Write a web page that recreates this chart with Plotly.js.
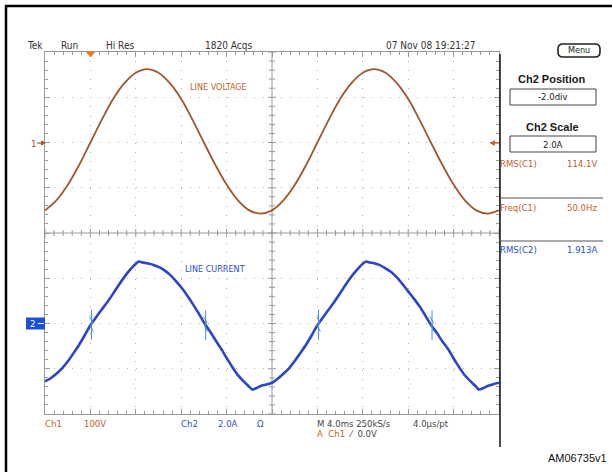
<!DOCTYPE html>
<html>
<head>
<meta charset="utf-8">
<script src="https://cdn.plot.ly/plotly-3.0.1.min.js"></script>
<style>
  html, body { margin: 0; padding: 0; background: #ffffff; }
  #scope { width: 612px; height: 472px; }
</style>
</head>
<body>
<div id="scope"></div>
<script>
// Time base: 4 ms/div, ten divisions, trigger one division in from the left
const voltageTimeMs = [-4, -3, -2, -1, 0, 1, 2, 3, 4, 5, 6, 7, 8, 9, 10, 11, 12, 13, 14, 15, 16,
  17, 18, 19, 20, 21, 22, 23, 24, 25, 26, 27, 28, 29, 30, 31, 32, 33, 34, 35, 36];

// Ch1: line voltage (V), 100 V/div
const lineVoltage = [-150, -128, -94, -50, 0, 50, 96, 131, 154, 162, 154, 131, 96, 50, 0,
  -49, -93, -128, -150, -157, -150, -128, -94, -50, 0, 50, 96, 131, 154, 162, 154, 131, 96,
  50, 0, -49, -93, -128, -150, -157, -150];

// Ch2: line current (A), 2 A/div
const currentTimeMs = [-4, -3.5, -3, -2.5, -2, -1.5, -1, -0.5, 0, 0.5, 1, 1.5, 2, 2.5, 3, 3.5, 4,
  4.25, 4.6,
  5, 5.5, 6, 6.5, 7, 7.5, 8, 8.5, 9, 9.5, 10, 10.5, 11, 11.5, 12, 12.5, 13, 13.5, 14,
  14.25, 14.6,
  15, 15.5, 16, 16.5, 17, 17.5, 18, 18.5, 19, 19.5, 20, 20.5, 21, 21.5, 22, 22.5, 23, 23.5, 24,
  24.3, 24.6,
  25, 25.5, 26, 26.5, 27, 27.5, 28, 28.5, 29, 29.5, 30, 30.5, 31, 31.5, 32, 32.5, 33, 33.5, 34,
  34.2, 34.6,
  35, 35.5, 36];
const lineCurrent = [-2.56, -2.42, -2.22, -1.98, -1.68, -1.32, -0.95, -0.52, -0.08, 0.28, 0.62, 0.95, 1.32, 1.70, 2.06, 2.38, 2.64,
  2.74, 2.70,
  2.66, 2.60, 2.50, 2.36, 2.16, 1.90, 1.60, 1.26, 0.88, 0.48, 0.05, -0.32, -0.72, -1.10, -1.52, -1.92, -2.28, -2.56, -2.80,
  -2.92, -2.86,
  -2.76, -2.70, -2.62, -2.44, -2.22, -1.98, -1.66, -1.30, -0.94, -0.52, -0.08, 0.28, 0.62, 0.96, 1.34, 1.72, 2.08, 2.38, 2.64,
  2.74, 2.70,
  2.66, 2.58, 2.44, 2.28, 2.04, 1.74, 1.42, 1.10, 0.76, 0.36, -0.06, -0.40, -0.78, -1.12, -1.54, -1.94, -2.30, -2.56, -2.80,
  -2.92, -2.86,
  -2.76, -2.68, -2.62];

// Switching glitches on the current at each zero crossing
const spikeTimeMs = [0.1, 10.15, 20.1, 30.1];
const spikeHigh = [0.62, 0.58, 0.62, 0.58];
const spikeLow = [-0.72, -0.74, -0.72, -0.74];

// Readouts
const panelTitles = ['Ch2 Position', 'Ch2 Scale'];
const panelValues = ['-2.0div', '2.0A'];
const readoutNames = ['RMS(C1)', 'Freq(C1)', 'RMS(C2)'];
const readoutValues = ['114.1V', '50.0Hz', '1.913A'];
const statusItems = ['Tek', 'Run', 'Hi Res', '1820 Acqs', '07 Nov 08 19:21:27'];

// ---- styling ----
const ORANGE = '#c8602a';
const VTRACE = '#a0562e';
const BLUE = '#2a50d4';
const ITRACE = '#2b44c9';
const GRAT = '#9a9a92';
const DOTS = '#b2b2aa';
const NARROW = '"Liberation Sans Narrow", "DejaVu Sans Condensed", "Arial Narrow", sans-serif';
const SANS = '"Liberation Sans", Arial, sans-serif';

// plot area in page pixels
const L = 45, R = 499, T = 52, B = 414;
const px = x => (x - L) / (R - L);
const py = y => (B - y) / (B - T);

function label(text, x, y, color, size, opts) {
  return Object.assign({
    xref: 'paper', yref: 'paper', x: px(x), y: py(y), text: text, showarrow: false,
    xanchor: 'left', yanchor: 'middle', borderpad: 0, borderwidth: 0,
    font: { family: NARROW, size: size || 10, color: color || '#333' }
  }, opts || {});
}
function pline(x0, y0, x1, y1, color, width) {
  return { type: 'line', xref: 'paper', yref: 'paper', x0: px(x0), y0: py(y0), x1: px(x1), y1: py(y1),
    line: { color: color, width: width || 1 } };
}
function prect(x0, y0, x1, y1, lineColor, fill, width) {
  return { type: 'rect', xref: 'paper', yref: 'paper', x0: px(x0), y0: py(y0), x1: px(x1), y1: py(y1),
    line: { color: lineColor, width: width === undefined ? 1 : width }, fillcolor: fill || 'rgba(0,0,0,0)' };
}
function ppath(points, color, fill, width) {
  const d = points.map((p, i) => (i ? 'L' : 'M') + px(p[0]) + ',' + py(p[1])).join(' ') + (fill ? ' Z' : '');
  return { type: 'path', xref: 'paper', yref: 'paper', path: d,
    line: { color: color, width: width || 1 }, fillcolor: fill || 'rgba(0,0,0,0)' };
}

// ---- traces ----
const spikeX = [], spikeY = [];
spikeTimeMs.forEach((t, i) => {
  spikeX.push(t, t, null, t - 0.18, t + 0.12, t - 0.1, t + 0.16, null);
  spikeY.push(spikeHigh[i], spikeLow[i], null, 0.3, 0.05, -0.1, -0.35, null);
});

const traces = [
  { x: voltageTimeMs, y: lineVoltage, type: 'scatter', mode: 'lines', yaxis: 'y',
    line: { color: VTRACE, width: 1.8, shape: 'spline', smoothing: 1 }, hoverinfo: 'skip' },
  { x: currentTimeMs, y: lineCurrent, type: 'scatter', mode: 'lines', yaxis: 'y2',
    line: { color: ITRACE, width: 2.6, shape: 'spline', smoothing: 0.4 }, hoverinfo: 'skip' },
  { x: spikeX, y: spikeY, type: 'scatter', mode: 'lines', yaxis: 'y2', connectgaps: false,
    line: { color: '#4a90e2', width: 1 }, hoverinfo: 'skip' }
];

// ---- graticule: centre cross with fine ticks ----
const shapes = [];
const centreV = -200, centreT = 16;
shapes.push({ type: 'line', xref: 'x', yref: 'y', x0: -4, x1: 36, y0: centreV, y1: centreV,
  line: { color: GRAT, width: 1 }, layer: 'below' });
shapes.push({ type: 'line', xref: 'x', yref: 'y', x0: centreT, x1: centreT, y0: -600, y1: 200,
  line: { color: GRAT, width: 1 }, layer: 'below' });
for (let k = 0; k <= 50; k++) {
  const t = -4 + k * 0.8;
  const h = (k % 5 === 0) ? 9 : 6.5;
  shapes.push({ type: 'line', xref: 'x', yref: 'y', x0: t, x1: t, y0: centreV - h, y1: centreV + h,
    line: { color: GRAT, width: 1 }, layer: 'below' });
}
for (let k = 0; k <= 40; k++) {
  const v = -600 + k * 20;
  const w = (k % 5 === 0) ? 0.36 : 0.26;
  shapes.push({ type: 'line', xref: 'x', yref: 'y', x0: centreT - w, x1: centreT + w, y0: v, y1: v,
    line: { color: GRAT, width: 1 }, layer: 'below' });
}

// frame of the screen
shapes.push(pline(6, 5, 6, 472, '#000', 2.5));
shapes.push(pline(5, 6, 612, 6, '#000', 2.5));
// separator between waveform area and side menu
shapes.push(pline(500, 54, 500, 447, '#111', 1.5));
// side menu
shapes.push({ type: 'path', xref: 'paper', yref: 'paper', line: { color: '#222', width: 1.6 },
  path: (() => {
    const x0 = 558, x1 = 600, y0 = 44, y1 = 57, r = 5;
    return 'M' + px(x0 + r) + ',' + py(y0) + ' L' + px(x1 - r) + ',' + py(y0) +
      ' Q' + px(x1) + ',' + py(y0) + ' ' + px(x1) + ',' + py(y0 + r) +
      ' L' + px(x1) + ',' + py(y1 - r) +
      ' Q' + px(x1) + ',' + py(y1) + ' ' + px(x1 - r) + ',' + py(y1) +
      ' L' + px(x0 + r) + ',' + py(y1) +
      ' Q' + px(x0) + ',' + py(y1) + ' ' + px(x0) + ',' + py(y1 - r) +
      ' L' + px(x0) + ',' + py(y0 + r) +
      ' Q' + px(x0) + ',' + py(y0) + ' ' + px(x0 + r) + ',' + py(y0) + ' Z';
  })() });
shapes.push(prect(510, 89, 596, 105, '#444', '#fff', 1));
shapes.push(prect(510, 136, 596, 152, '#444', '#fff', 1));
shapes.push(pline(500, 198, 603, 198, '#555', 1));
shapes.push(pline(500, 241, 603, 241, '#555', 1));
// trigger position marker
shapes.push(ppath([[86.5, 52], [94.5, 52], [90.5, 57]], '#f07a20', '#f07a20', 1));
// Ch1 ground marker and trigger-level marker
shapes.push(pline(37, 143, 45, 143, VTRACE, 1.2));
shapes.push(ppath([[45, 143], [41.5, 141], [41.5, 145]], VTRACE, VTRACE, 1));
shapes.push(pline(494, 143, 499, 143, ORANGE, 1.2));
shapes.push(ppath([[490.5, 143], [494.5, 140.8], [494.5, 145.2]], ORANGE, ORANGE, 1));
// Ch2 ground marker
shapes.push(prect(26, 317.5, 45, 329.5, '#1c4fd8', '#1c4fd8', 0));
shapes.push(pline(38, 323.5, 44, 323.5, '#ffffff', 1));

// ---- text ----
const annotations = [];
const statusX = [27, 61, 106, 205, 386];
statusItems.forEach((s, i) => annotations.push(label(s, statusX[i], 45, '#333', 10)));
annotations.push(label('Menu', 579, 50.5, '#222', 9, { xanchor: 'center' }));

annotations.push(label(panelTitles[0], 552, 79, '#1a1a1a', 11,
  { xanchor: 'center', font: { family: SANS, size: 11, color: '#1a1a1a', weight: 'bold' } }));
annotations.push(label(panelValues[0], 553, 97, '#222', 9.5, { xanchor: 'center' }));
annotations.push(label(panelTitles[1], 552, 127, '#1a1a1a', 11,
  { xanchor: 'center', font: { family: SANS, size: 11, color: '#1a1a1a', weight: 'bold' } }));
annotations.push(label(panelValues[1], 553, 144, '#222', 9.5, { xanchor: 'center' }));

const readoutY = [163, 207, 249];
const readoutColor = [ORANGE, ORANGE, BLUE];
readoutNames.forEach((n, i) => {
  annotations.push(label(n, 500, readoutY[i], readoutColor[i], 9.5));
  annotations.push(label(readoutValues[i], 567, readoutY[i], readoutColor[i], 9.5));
});

annotations.push(label('LINE VOLTAGE', 190, 87, ORANGE, 9));
annotations.push(label('LINE CURRENT', 185, 269, BLUE, 9));
annotations.push(label('1', 31, 143, VTRACE, 9.5));
annotations.push(label('2', 30, 323.5, '#ffffff', 9.5));

annotations.push(label('Ch1', 45, 423, ORANGE, 9.5));
annotations.push(label('100V', 84, 423, ORANGE, 9.5));
annotations.push(label('Ch2', 181, 423, BLUE, 9.5));
annotations.push(label('2.0A', 218, 423, BLUE, 9.5));
annotations.push(label('Ω', 257, 423, BLUE, 9.5));
annotations.push(label('M 4.0ms 250kS/s', 317, 423, '#444', 9.5));
annotations.push(label('4.0µs/pt', 413, 423, '#444', 9.5));
annotations.push(label('<span style="color:' + ORANGE + '">A  Ch1</span>  ⁄  0.0V', 317, 433, '#444', 9.5));
annotations.push(label('AM06735v1', 548, 458, '#111', 11, { font: { family: SANS, size: 11, color: '#111' } }));

const axisCommon = {
  showticklabels: false, zeroline: false, fixedrange: true,
  showline: true, linecolor: GRAT, linewidth: 1, mirror: 'ticks',
  ticks: 'inside', ticklen: 5, tickcolor: GRAT, tickwidth: 1,
  showgrid: true, gridcolor: DOTS, gridwidth: 1, griddash: '1px,8.08px'
};

const layout = {
  width: 612, height: 472,
  margin: { l: L, r: 612 - R, t: T, b: 472 - B, pad: 0 },
  paper_bgcolor: '#ffffff', plot_bgcolor: '#ffffff',
  showlegend: false,
  xaxis: Object.assign({}, axisCommon, {
    range: [-4, 36], tick0: -4, dtick: 4,
    minor: { tick0: -4, dtick: 0.8, ticks: 'inside', ticklen: 3, tickcolor: GRAT, showgrid: false }
  }),
  yaxis: Object.assign({}, axisCommon, {
    range: [-600, 200], tick0: -600, dtick: 100,
    minor: { tick0: -600, dtick: 20, ticks: 'inside', ticklen: 3, tickcolor: GRAT, showgrid: false }
  }),
  yaxis2: { range: [-4, 12], overlaying: 'y', visible: false, fixedrange: true },
  shapes: shapes,
  annotations: annotations
};

Plotly.newPlot('scope', traces, layout, { staticPlot: true, displayModeBar: false });
</script>
</body>
</html>
